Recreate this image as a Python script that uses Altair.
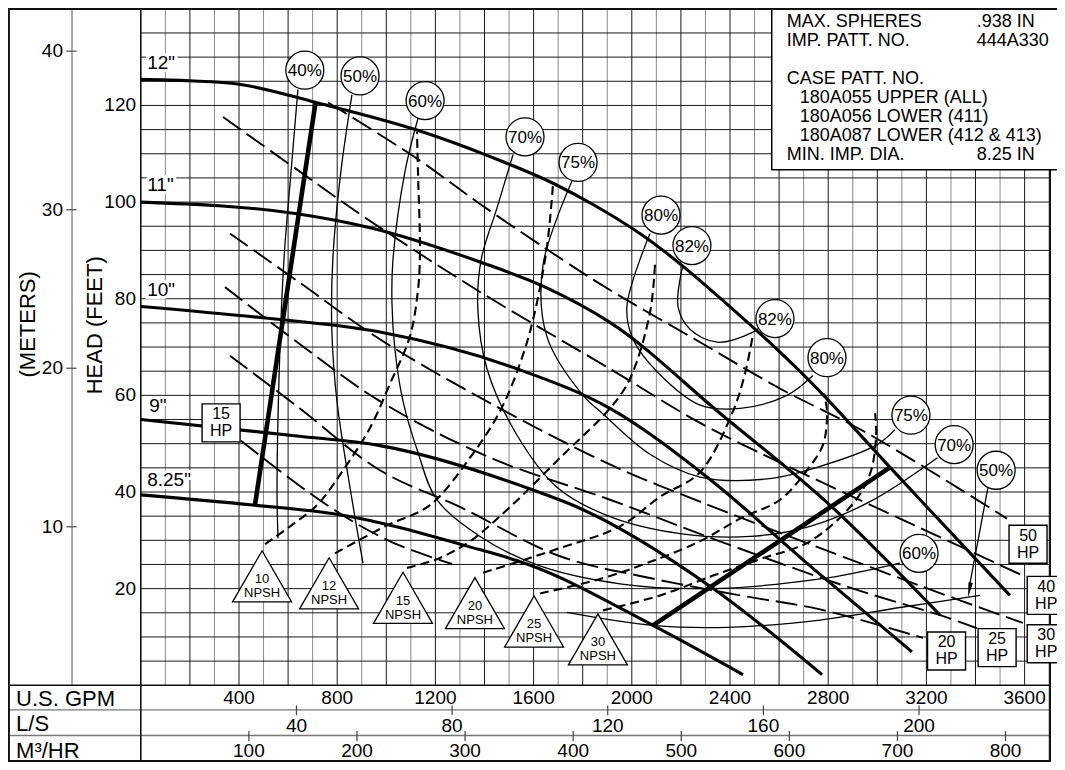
import altair as alt
import pandas as pd

# ---------------- values (GPM, head in feet) ----------------
HEAD_12 = [(0, 125.4), (200, 125.1), (400, 124.4), (714, 120.6), (1125, 114.9), (1423, 109.4), (1679, 103.9),
           (1842, 99.5), (2033, 93.5), (2412, 77.8), (2726, 62.9), (3052, 45.1), (3202, 36.9), (3540, 18.6)]
HEAD_11 = [(0, 100.0), (636, 97.6), (934, 94.7), (1382, 87.6), (1647, 82.4), (1911, 75.1),
           (2359, 56.3), (2807, 37.3), (3256, 14.5)]
HEAD_10 = [(0, 78.4), (486, 76.1), (974, 73.1), (1532, 65.5), (1911, 57.3), (2306, 43.1),
           (2726, 24.7), (3141, 6.9)]
HEAD_9 = [(0, 55.0), (636, 51.6), (974, 49.6), (1598, 40.4), (1777, 36.9), (2327, 20.2), (2775, 2.2)]
HEAD_825 = [(0, 39.4), (457, 37.3), (811, 35.3), (1329, 28.8), (1573, 25.1), (2086, 12.4), (2453, 2.2)]

MIN_FLOW = [(465, 37.3), (712, 120.7)]
MAX_FLOW = [(2086, 12.4), (3052, 45.1)]

EFF_40 = [(640, 123.3), (612, 106.3), (583, 88.0), (563, 63.5), (555, 39.0), (559, 30.4)]
EFF_50 = [(860, 122.2), (815, 106.3), (782, 88.0), (778, 73.7), (799, 58.8), (864, 37.3), (905, 25.3)]
EFF_60 = [(1129, 117.3), (1076, 106.3), (1027, 88.0), (1023, 79.2), (1035, 69.6), (1068, 58.8),
          (1129, 48.2), (1206, 38.4), (1382, 30.8), (1626, 24.7), (1952, 21.0), (2306, 20.0),
          (2767, 22.0), (3092, 25.3)]
EFF_70 = [(1516, 109.8), (1451, 98.8), (1386, 88.0), (1373, 77.8), (1410, 65.5), (1532, 51.8),
          (1695, 41.0), (1911, 34.9), (2196, 31.4), (2481, 30.8), (2726, 32.9), (2970, 38.0), (3245, 47.1)]
EFF_75 = [(1756, 104.3), (1638, 86.9), (1654, 72.2), (1801, 60.0), (1871, 56.7), (2074, 47.8),
          (2278, 43.1), (2551, 42.7), (2754, 45.1), (2999, 49.8), (3072, 52.9)]
EFF_80 = [(2074, 93.5), (1980, 78.4), (2005, 71.6), (2103, 64.9), (2278, 58.0), (2441, 57.3),
          (2632, 60.0), (2738, 64.1)]
EFF_82 = [(2208, 86.9), (2188, 78.4), (2237, 73.7), (2347, 71.0), (2494, 73.1), (2522, 74.1)]
EFF_50B = [(1736, 15.1), (2086, 12.4), (2388, 12.0), (2767, 13.5), (3092, 16.1), (3418, 18.6)]
ARROW_50 = [(3451, 41.0), (3377, 21.0)]
ARROW_TIP = [(3375, 19.7)]

NPSH_10 = [(506, 29.2), (608, 32.9), (718, 37.3), (832, 45.1), (934, 53.3), (1015, 62.4), (1096, 72.2),
           (1129, 81.8), (1137, 89.4), (1129, 106.3), (1125, 114.5)]
NPSH_12 = [(791, 27.3), (995, 32.9), (1178, 37.3), (1341, 47.1), (1463, 56.7), (1544, 66.5),
           (1598, 75.7), (1654, 90.6), (1679, 103.7)]
NPSH_15 = [(1084, 24.3), (1206, 26.1), (1341, 29.8), (1504, 36.9), (1708, 47.1), (1911, 57.3),
           (1993, 63.5), (2074, 77.1), (2095, 87.6)]
NPSH_20 = [(1394, 23.3), (1708, 28.4), (1952, 32.9), (2115, 39.0), (2278, 44.1), (2412, 56.7),
           (2461, 64.5), (2494, 72.7)]
NPSH_25 = [(1626, 19.0), (1871, 22.0), (2062, 25.3), (2278, 29.8), (2441, 34.5), (2604, 38.4),
           (2713, 44.5), (2779, 49.8), (2795, 56.7), (2783, 60.4)]
NPSH_30 = [(1883, 15.5), (2115, 18.6), (2331, 22.7), (2522, 26.1), (2726, 29.8), (2901, 37.6),
           (2970, 43.7), (2995, 51.2), (2991, 56.3)]

HP_50 = [(763, 120.6), (1125, 109.0), (1382, 99.6), (1720, 88.0), (1911, 81.8), (2278, 71.0),
         (2604, 61.4), (2958, 52.2), (3528, 34.5)]
HP_40 = [(335, 117.6), (648, 106.3), (934, 96.1), (1382, 81.4), (1911, 65.5), (2278, 54.3),
         (2604, 46.1), (3092, 34.5), (3593, 22.7)]
HP_30 = [(363, 93.5), (648, 83.3), (974, 71.6), (1423, 58.4), (1911, 45.7), (2278, 38.0),
         (2726, 29.2), (3174, 20.6), (3593, 12.9)]
HP_25 = [(343, 82.4), (648, 70.6), (974, 58.8), (1423, 47.1), (1911, 38.4), (2359, 29.8),
         (2889, 20.2), (3256, 14.5), (3406, 11.8)]
HP_20 = [(363, 68.2), (648, 57.3), (974, 44.5), (1300, 36.9), (1708, 26.7), (2074, 22.2),
         (2441, 18.6), (2767, 15.7), (3186, 9.8)]
HP_15 = [(408, 50.6), (758, 37.3), (1015, 29.8), (1268, 25.1)]

BUBBLES = [("40%", 668, 127.3), ("50%", 893, 126.1), ("60%", 1158, 121.0), ("70%", 1565, 113.5),
           ("75%", 1781, 108.2), ("80%", 2119, 97.3), ("82%", 2245, 91.0), ("82%", 2583, 75.9),
           ("80%", 2795, 67.8), ("75%", 3137, 55.9), ("70%", 3313, 49.8), ("50%", 3484, 44.5),
           ("60%", 3170, 27.3)]
NPSH_MARKS = [("10", 494, 22.55), ("12", 767, 21.1), ("15", 1068, 18.1), ("20", 1361, 17.0),
              ("25", 1602, 13.2), ("30", 1862, 9.5)]
HP_BOXES = [("15", 327, 54.3), ("50", 3614, 29.2), ("40", 3688, 18.6), ("30", 3688, 8.6),
            ("25", 3488, 7.8), ("20", 3282, 7.1)]
IMP_LABELS = [('12"', 26, 128.8), ('11"', 26, 103.5), ('10"', 26, 81.8), ('9"', 34, 57.8), ('8.25"', 26, 42.4)]

INFO_LEFT = [("MAX. SPHERES", 137.3), ("IMP. PATT. NO.", 133.4), ("CASE PATT. NO.", 125.5), ("MIN. IMP. DIA.", 109.8)]
INFO_INDENT = [("180A055 UPPER (ALL)", 121.6), ("180A056 LOWER (411)", 117.7), ("180A087 LOWER (412 & 413)", 113.7)]
INFO_RIGHT = [(".938 IN", 137.3), ("444A330", 133.4), ("8.25 IN", 109.8)]

GPM_TICKS = [400, 800, 1200, 1600, 2000, 2400, 2800, 3200, 3600]
LS_TICKS = [40, 80, 120, 160, 200]
M3H_TICKS = [100, 200, 300, 400, 500, 600, 700, 800]
FEET_TICKS = [20, 40, 60, 80, 100, 120]
METER_TICKS = [10, 20, 30, 40]
GPM_PER_LS = 15.850
GPM_PER_M3H = 4.4029
FT_PER_M = 3.2808

# ---------------- layout ----------------
W, H = 1049, 754
KX, KY = 0.2455, 4.832
XMIN = -132.8 / KX
XMAX = XMIN + W / KX
YMAX = 140 + 0.8 / KY
YMIN = YMAX - H / KY
XS = alt.Scale(domain=[XMIN, XMAX], nice=False, zero=False)
YS = alt.Scale(domain=[YMIN, YMAX], nice=False, zero=False)
FONT = "Liberation Sans"
FRAME_L, FRAME_R, FRAME_T, FRAME_B = XMIN + 0.8 / KX, 3703, 140, -15.7
ROW1, ROW2 = -5.1, -10.4
INFO_X, INFO_Y = 2570, 106.7


def X(f="x"):
    return alt.X(f"{f}:Q", scale=XS, axis=None)


def Y(f="y"):
    return alt.Y(f"{f}:Q", scale=YS, axis=None)


def curves_df(curves):
    rows = []
    for name, pts in curves.items():
        for i, (gx, gy) in enumerate(pts):
            rows.append({"x": gx, "y": gy, "seq": i, "curve": name})
    return pd.DataFrame(rows)


def lines(curves, width, dash=None, interp="linear"):
    kw = dict(color="black", strokeWidth=width, interpolate=interp, strokeCap="butt")
    if dash:
        kw["strokeDash"] = dash
    return alt.Chart(curves_df(curves)).mark_line(**kw).encode(
        x=X(), y=Y(), detail="curve:N", order="seq:Q")


def rules(rows, color, width):
    df = pd.DataFrame(rows, columns=["x", "x2", "y", "y2"])
    return alt.Chart(df).mark_rule(color=color, strokeWidth=width, strokeCap="square").encode(
        x=X(), x2="x2:Q", y=Y(), y2="y2:Q")


def texts(rows, size, align="center", baseline="middle", dy=0, dx=0, angle=0, **kw):
    df = pd.DataFrame(rows, columns=["t", "x", "y"])
    return alt.Chart(df).mark_text(font=FONT, fontSize=size, align=align, baseline=baseline,
                                   dy=dy, dx=dx, angle=angle, color="black", **kw).encode(
        x=X(), y=Y(), text="t:N")


layers = []
# grid
layers.append(rules([(g, g, 0, 140) for g in range(100, 3700, 100) if g % 200], "#8a8a8a", 1))
layers.append(rules([(g, g, 0, 140) for g in range(200, 3700, 200)], "#1a1a1a", 1))
layers.append(rules([(0, FRAME_R, h, h) for h in range(5, 140, 5)], "#1a1a1a", 1))
# frame and row dividers
layers.append(rules([(FRAME_L, FRAME_R, ROW1, ROW1), (FRAME_L, FRAME_R, ROW2, ROW2)], "#777777", 1.4))
layers.append(rules([(-280.2, -280.2, 0, 140)], "#888888", 1.4))
layers.append(rules([(FRAME_L, FRAME_R, 0, 0), (0, 0, FRAME_B, FRAME_T)], "#111111", 1.6))
layers.append(rules([(FRAME_L, FRAME_R, FRAME_T, FRAME_T), (FRAME_L, FRAME_R, FRAME_B, FRAME_B),
                     (FRAME_L, FRAME_L, FRAME_B, FRAME_T), (FRAME_R, FRAME_R, FRAME_B, FRAME_T)], "#111111", 2.2))

# horsepower lines (long dash)
layers.append(lines({"hp50": HP_50, "hp40": HP_40, "hp30": HP_30, "hp25": HP_25, "hp20": HP_20, "hp15": HP_15},
                    1.9, dash=[22, 7], interp="catmull-rom"))
# NPSH lines (short dash)
layers.append(lines({"n10": NPSH_10, "n12": NPSH_12, "n15": NPSH_15, "n20": NPSH_20, "n25": NPSH_25, "n30": NPSH_30},
                    2.1, dash=[9, 5], interp="catmull-rom"))
# efficiency curves
layers.append(lines({"e40": EFF_40, "e50": EFF_50, "e60": EFF_60, "e70": EFF_70, "e75": EFF_75,
                     "e80": EFF_80, "e82": EFF_82, "e50b": EFF_50B, "arr": ARROW_50}, 1.3, interp="catmull-rom"))
# impeller head curves
layers.append(lines({"h12": HEAD_12, "h11": HEAD_11, "h10": HEAD_10, "h9": HEAD_9, "h825": HEAD_825},
                    3.1, interp="monotone"))
layers.append(lines({"min": MIN_FLOW, "max": MAX_FLOW}, 4.6))
layers.append(alt.Chart(pd.DataFrame(ARROW_TIP, columns=["x", "y"])).mark_point(
    shape="M-0.3,-1L0.3,-1L0,1Z", size=225, filled=True, color="black", opacity=1, angle=10).encode(x=X(), y=Y()))

# efficiency bubbles
bdf = pd.DataFrame(BUBBLES, columns=["t", "x", "y"])
layers.append(alt.Chart(bdf).mark_point(shape="circle", size=1444, filled=True, fill="white",
                                        stroke="black", strokeWidth=1.3, opacity=1).encode(x=X(), y=Y()))
layers.append(texts(BUBBLES, 17, dy=1))

# NPSH triangles
layers.append(alt.Chart(pd.DataFrame(NPSH_MARKS, columns=["t", "x", "y"])).mark_point(
    shape="triangle-up", size=3481, filled=True, fill="white", stroke="black", strokeWidth=1.3,
    opacity=1).encode(x=X(), y=Y()))
layers.append(texts(NPSH_MARKS, 13, dy=3))
layers.append(texts([("NPSH", x, y) for _, x, y in NPSH_MARKS], 13, dy=17))

# HP boxes
layers.append(alt.Chart(pd.DataFrame(HP_BOXES, columns=["t", "x", "y"])).mark_point(
    shape="square", size=1444, filled=True, fill="white", stroke="black", strokeWidth=1.4,
    opacity=1).encode(x=X(), y=Y()))
layers.append(texts(HP_BOXES, 16, dy=-8.5))
layers.append(texts([("HP", x, y) for _, x, y in HP_BOXES], 16, dy=8.5))

# impeller labels (white halo hides the grid)
layers.append(texts(IMP_LABELS, 19, align="left", stroke="white", strokeWidth=6))
layers.append(texts(IMP_LABELS, 19, align="left"))

# info box
ibox = pd.DataFrame([{"x": INFO_X, "x2": XMAX + 50, "y": INFO_Y, "y2": FRAME_T}])
layers.append(alt.Chart(ibox).mark_rect(fill="white", stroke="black", strokeWidth=1.5).encode(
    x=X(), x2="x2:Q", y=Y(), y2="y2:Q"))
layers.append(rules([(INFO_X, XMAX + 50, FRAME_T, FRAME_T)], "#111111", 2.2))
layers.append(texts([(t, 2631, y) for t, y in INFO_LEFT], 18, align="left"))
layers.append(texts([(t, 2684, y) for t, y in INFO_INDENT], 18, align="left"))
layers.append(texts([(t, 3405, y) for t, y in INFO_RIGHT], 18, align="left"))

# left axes
layers.append(texts([(str(v), -19.5, v) for v in FEET_TICKS], 19, align="right"))
layers.append(texts([(str(v), -316.9, v * FT_PER_M) for v in METER_TICKS], 19, align="right"))
layers.append(rules([(-300.6, -264, v * FT_PER_M, v * FT_PER_M) for v in METER_TICKS], "#555555", 1.3))
layers.append(texts([("(METERS)", -461.5, 74.7)], 22, angle=270))
layers.append(texts([("HEAD (FEET)", -186.6, 74.5)], 22, angle=270))

# bottom axes
layers.append(texts([("U.S. GPM", -508, -2.8), ("L/S", -508, -8.0), ("M³/HR", -508, -13.6)], 22, align="left"))
layers.append(texts([(str(v), v, -2.65) for v in GPM_TICKS], 19))
layers.append(texts([(str(v), v * GPM_PER_LS, -8.5) for v in LS_TICKS], 19))
layers.append(rules([(v * GPM_PER_LS, v * GPM_PER_LS, -4.3, -6.1) for v in LS_TICKS], "#444444", 1.2))
layers.append(texts([(str(v), v * GPM_PER_M3H, -13.7) for v in M3H_TICKS], 19))
layers.append(rules([(v * GPM_PER_M3H, v * GPM_PER_M3H, -9.6, -11.4) for v in M3H_TICKS], "#444444", 1.2))

chart = alt.layer(*layers).properties(
    width=W, height=H, padding=0, autosize=alt.AutoSizeParams(type="none"),
    background="white").configure_view(stroke=None)

chart.save("out.html", embed_options={"renderer": "svg", "actions": False})
